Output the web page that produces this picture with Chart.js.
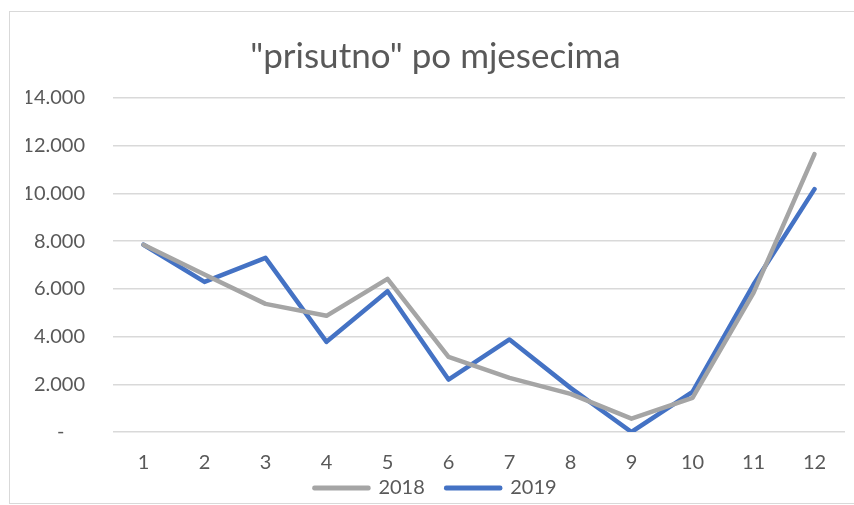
<!DOCTYPE html>
<html>
<head>
<meta charset="utf-8">
<script src="https://cdn.jsdelivr.net/npm/chart.js@4.4.0/dist/chart.umd.min.js"></script>
<style>
    html, body { margin: 0; padding: 0; background: #ffffff; overflow: hidden; }
    #frame { position: absolute; left: 9px; top: 11px; width: 900px; height: 491px; border: 1px solid #d9d9d9; }
    #wrap { position: absolute; left: 0; top: 0; width: 854px; height: 505px; }
</style>
</head>
<body>
<div id="frame"></div>
<div id="wrap"><canvas id="myChart" width="854" height="505"></canvas></div>
<script>
// data
let meseci = ['1', '2', '3', '4', '5', '6', '7', '8', '9', '10', '11', '12'];
let prisutno2018 = [7850, 6600, 5370, 4870, 6420, 3150, 2270, 1600, 560, 1430, 5830, 11650];
let prisutno2019 = [7850, 6290, 7300, 3780, 5900, 2200, 3880, 1850, 0, 1680, 6180, 10180];
let yTicks = [0, 2000, 4000, 6000, 8000, 10000, 12000, 14000];

const fontFam = "Lato, 'Open Sans', sans-serif";
const txtColor = '#595959';

function fmtBroj(v) {
    if (v == 0) return '-    ';
    return v.toLocaleString('de-DE');
}

const ctx = document.getElementById('myChart');
const config = {
    type: 'line',
    data: {
        labels: meseci,
        datasets: [{
            label: '2018',
            data: prisutno2018,
            borderColor: '#a5a5a5',
            backgroundColor: '#a5a5a5',
            borderWidth: 4.5,
            pointRadius: 0,
            tension: 0,
            borderJoinStyle: 'round',
            borderCapStyle: 'round'
        }, {
            label: '2019',
            data: prisutno2019,
            borderColor: '#4472c4',
            backgroundColor: '#4472c4',
            borderWidth: 4.5,
            pointRadius: 0,
            tension: 0,
            borderJoinStyle: 'round',
            borderCapStyle: 'round'
        }]
    },
    options: {
        responsive: false,
        animation: false,
        layout: {
            padding: { left: 26, right: 9, top: 0, bottom: -3 }
        },
        scales: {
            x: {
                offset: true,
                afterFit: function (scale) { scale.height = 40; },
                grid: { display: false, drawTicks: false },
                border: { display: false },
                ticks: {
                    color: txtColor,
                    padding: 19,
                    font: { family: fontFam, size: 20 }
                }
            },
            y: {
                min: 0,
                max: 14000,
                afterFit: function (scale) { scale.width = 87; },
                afterBuildTicks: function (scale) {
                    scale.ticks = yTicks.map(v => ({ value: v }));
                },
                grid: { color: '#d9d9d9', lineWidth: 1.5, drawTicks: false },
                border: { display: false },
                ticks: {
                    color: txtColor,
                    padding: 28,
                    font: { family: fontFam, size: 20 },
                    callback: function (value) { return fmtBroj(value); }
                }
            }
        },
        plugins: {
            title: {
                display: true,
                text: '"prisutno" po mjesecima',
                color: txtColor,
                font: { family: fontFam, size: 35, weight: 'normal' },
                padding: { top: 36, bottom: 20 }
            },
            legend: {
                position: 'bottom',
                labels: {
                    color: txtColor,
                    font: { family: fontFam, size: 20 },
                    boxWidth: 54,
                    boxHeight: 0.5,
                    padding: 6,
                    generateLabels: function (chart) {
                        let items = Chart.defaults.plugins.legend.labels.generateLabels(chart);
                        items[0].text = items[0].text + '   ';
                        return items;
                    }
                }
            },
            tooltip: { enabled: false }
        }
    }
};
const myChart = new Chart(ctx, config);
</script>
</body>
</html>
